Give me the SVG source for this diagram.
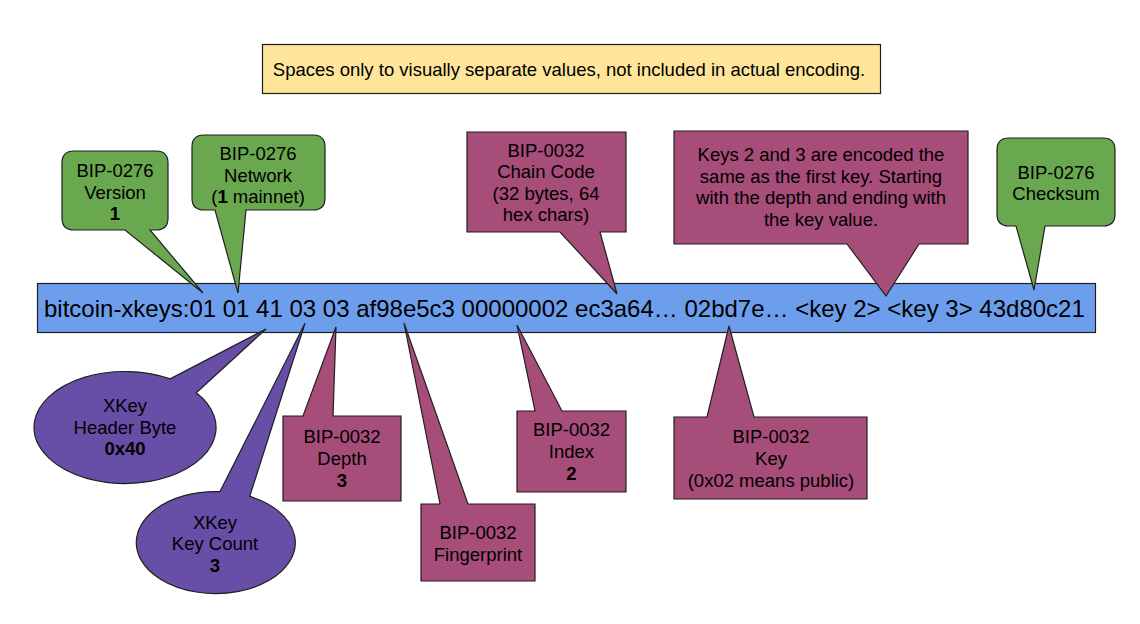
<svg xmlns="http://www.w3.org/2000/svg" width="1140" height="624" viewBox="0 0 1140 624">
<style>
text{font-family:"Liberation Sans",Arial,sans-serif;font-size:18.5px;fill:#000;text-anchor:middle}
.b{font-weight:bold}
.sh{stroke:#1f1f1f;stroke-width:1.2;stroke-linejoin:miter}
.green{fill:#6aa84f}
.mag{fill:#a64d79}
.vio{fill:#674ea7}
.blue{fill:#6d9eeb}
.yel{fill:#ffe599}
</style>
<rect width="1140" height="624" fill="#ffffff"/>
<g id="note">
<rect class="sh yel" x="262.5" y="44.5" width="618" height="49"/>
<text x="569" y="76">Spaces only to visually separate values, not included in actual encoding.</text>
</g>
<g id="encoding">
<rect class="sh blue" x="37.5" y="283.5" width="1058" height="49"/>
<text x="44" y="316.5" style="text-anchor:start;font-size:24px">bitcoin-xkeys:01 01 41 03 03 af98e5c3 00000002 ec3a64… 02bd7e… &lt;key 2&gt; &lt;key 3&gt; 43d80c21</text>
</g>
<g id="connectors"/>
<g id="version">
<path class="sh green" d="M74,151 H156 Q168,151 168,163 V218 Q168,230 156,230 H150 L203,293 L125,230 H74 Q62,230 62,218 V163 Q62,151 74,151 Z"/>
<text x="115" y="177">BIP-0276</text>
<text x="115" y="198.5">Version</text>
<text x="115" y="220" class="b">1</text>
</g>
<g id="network">
<path class="sh green" d="M204,135 H313 Q325,135 325,147 V198 Q325,210 313,210 H246 L238,293 L215,210 H204 Q192,210 192,198 V147 Q192,135 204,135 Z"/>
<text x="258" y="160">BIP-0276</text>
<text x="258" y="181.5">Network</text>
<text x="258" y="203">(<tspan class="b">1</tspan> mainnet)</text>
</g>
<g id="chaincode">
<path class="sh mag" d="M467,132 H626 V232 H600 L617,294 L560,232 H467 Z"/>
<text x="546" y="156.5">BIP-0032</text>
<text x="546" y="178">Chain Code</text>
<text x="546" y="199.5">(32 bytes, 64</text>
<text x="546" y="221">hex chars)</text>
</g>
<g id="keysnote">
<path class="sh mag" d="M674,131 H968 V244 H919 L886,296 L847,244 H674 Z"/>
<text x="821" y="160.5">Keys 2 and 3 are encoded the</text>
<text x="821" y="182.5">same as the first key. Starting</text>
<text x="821" y="204">with the depth and ending with</text>
<text x="821" y="225.5">the key value.</text>
</g>
<g id="checksum">
<path class="sh green" d="M1009,138 H1103 Q1115,138 1115,150 V214 Q1115,226 1103,226 H1045 L1034,290 L1016,226 H1009 Q997,226 997,214 V150 Q997,138 1009,138 Z"/>
<text x="1056" y="178.5">BIP-0276</text>
<text x="1056" y="200">Checksum</text>
</g>
<g id="headerbyte">
<path class="sh vio" d="M170.2,378.9 L266,329 L196.3,392.7 A91,56 0 1 1 170.2,378.9 Z"/>
<text x="125" y="412">XKey</text>
<text x="125" y="433.5">Header Byte</text>
<text x="125" y="455" class="b">0x40</text>
</g>
<g id="keycount">
<path class="sh vio" d="M220,491.6 L305,323.3 L249.7,496.4 A79.5,51 0 1 1 220,491.6 Z"/>
<text x="215" y="528.5">XKey</text>
<text x="215" y="550">Key Count</text>
<text x="215" y="571.5" class="b">3</text>
</g>
<g id="depth">
<path class="sh mag" d="M283,416 H303 L336,327 L333,416 H401 V501 H283 Z"/>
<text x="342" y="443">BIP-0032</text>
<text x="342" y="465">Depth</text>
<text x="342" y="487" class="b">3</text>
</g>
<g id="fingerprint">
<path class="sh mag" d="M421,504 H440 L404,323 L468,504 H535 V581 H421 Z"/>
<text x="478" y="538.5">BIP-0032</text>
<text x="478" y="561">Fingerprint</text>
</g>
<g id="index">
<path class="sh mag" d="M517,411 H535 L517,325 L562,411 H626 V492 H517 Z"/>
<text x="571.5" y="436">BIP-0032</text>
<text x="571.5" y="458">Index</text>
<text x="571.5" y="479.5" class="b">2</text>
</g>
<g id="key">
<path class="sh mag" d="M674,417 H707 L729,326 L754,417 H867 V499 H674 Z"/>
<text x="771" y="443">BIP-0032</text>
<text x="771" y="465">Key</text>
<text x="771" y="487">(0x02 means public)</text>
</g>
</svg>
